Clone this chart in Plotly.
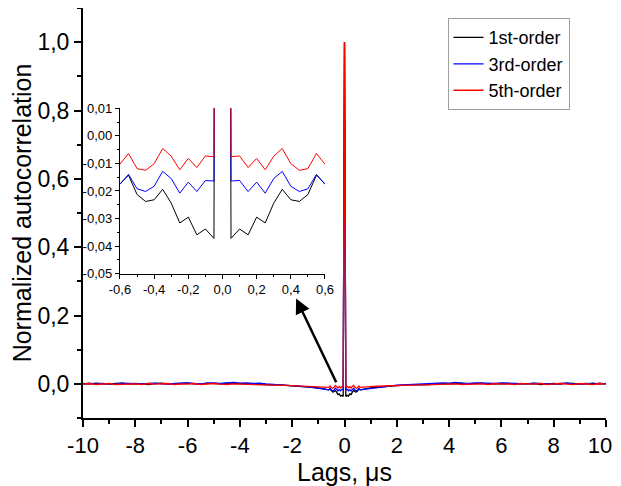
import plotly.graph_objects as go

# ---------------- data ----------------
outer_lags_left = [-10, -9.75, -9.5, -9.25, -9, -8.75, -8.5, -8.25, -8, -7.75, -7.5, -7.25,
                   -7, -6.75, -6.5, -6.25, -6, -5.75, -5.5, -5.25, -5, -4.75, -4.5, -4.25,
                   -4, -3.75, -3.5, -3.25, -3, -2.75, -2.5, -2.25, -2, -1.75, -1.5, -1.25,
                   -1, -0.75]
inner_lags_left = [-0.6, -0.55, -0.5, -0.45, -0.4, -0.35, -0.3, -0.25, -0.2, -0.15, -0.1, -0.05]

first_outer = [0.001, -0.001, 0.002, 0.000, -0.001, 0.001, 0.002, -0.001, 0.001, 0.000, -0.002, 0.001,
               0.002, 0.000, -0.001, 0.001, 0.002, 0.000, -0.001, 0.002, 0.001, 0.000, 0.002, 0.001,
               0.000, -0.001, 0.000, -0.002, -0.002, -0.003, -0.003, -0.004, -0.005, -0.006, -0.008, -0.010,
               -0.012, -0.015]
third_outer = [0.000, 0.002, -0.001, 0.001, 0.000, -0.001, 0.002, 0.001, -0.001, 0.000, 0.001, 0.002,
               0.000, -0.001, 0.001, 0.002, 0.003, 0.001, 0.000, 0.002, 0.003, 0.001, 0.002, 0.004,
               0.002, 0.003, 0.001, 0.002, 0.000, -0.001, -0.002, -0.003, -0.004, -0.006, -0.008, -0.010,
               -0.013, -0.016]
fifth_outer = [-0.001, 0.001, -0.002, 0.000, 0.001, -0.002, -0.001, 0.001, 0.000, -0.002, 0.001, -0.001,
               0.000, 0.001, -0.002, 0.000, -0.001, 0.001, -0.002, 0.000, 0.001, -0.001, -0.002, 0.000,
               -0.001, -0.002, -0.003, -0.002, -0.003, -0.004, -0.004, -0.005, -0.005, -0.006, -0.006, -0.007,
               -0.008, -0.009]

first_inner = [-0.0174, -0.0143, -0.0213, -0.0238, -0.0232, -0.0194, -0.0244, -0.0316, -0.0295, -0.0359, -0.0338, -0.0372]
third_inner = [-0.0176, -0.0140, -0.0192, -0.0202, -0.0183, -0.0129, -0.0155, -0.0208, -0.0168, -0.0202, -0.0162, -0.0164]
fifth_inner = [-0.0103, -0.0064, -0.0119, -0.0125, -0.0101, -0.0046, -0.0074, -0.0123, -0.0082, -0.0115, -0.0073, -0.0076]

peak_lag = [0.0]
peak_value = [1.0]

series_names = ["1st-order", "3rd-order", "5th-order"]
series_colors = ["#000000", "#0000ff", "#ff0000"]

main_xtick_vals = [-10, -8, -6, -4, -2, 0, 2, 4, 6, 8, 10]
# the last label gets a trailing figure space so it stays inside the visible page
main_xtick_text = ["-10", "-8", "-6", "-4", "-2", "0", "2", "4", "6", "8", "10\u2007"]
main_ytick_vals = [0.0, 0.2, 0.4, 0.6, 0.8, 1.0]
main_ytick_text = ["0,0", "0,2", "0,4", "0,6", "0,8", "1,0"]
inset_xtick_vals = [-0.6, -0.4, -0.2, 0.0, 0.2, 0.4, 0.6]
inset_xtick_text = ["-0,6", "-0,4", "-0,2", "0,0", "0,2", "0,4", "0,6"]
inset_ytick_vals = [0.01, 0.0, -0.01, -0.02, -0.03, -0.04, -0.05]
inset_ytick_text = ["0,01", "0,00", "-0,01", "-0,02", "-0,03", "-0,04", "-0,05"]

# symmetric autocorrelation: mirror the left half
lags = outer_lags_left + inner_lags_left + peak_lag + \
    [-v for v in reversed(inner_lags_left)] + [-v for v in reversed(outer_lags_left)]


def full(outer, inner):
    return outer + inner + peak_value + list(reversed(inner)) + list(reversed(outer))


series = [full(first_outer, first_inner), full(third_outer, third_inner), full(fifth_outer, fifth_inner)]

# ---------------- figure ----------------
FONT = "Liberation Sans, Arial, sans-serif"
fig = go.Figure()

for name, col, vals in zip(series_names, series_colors, series):
    fig.add_trace(go.Scatter(x=lags, y=vals, mode="lines", name=name,
                             line=dict(color=col, width=1.3), xaxis="x", yaxis="y"))
for name, col, vals in zip(series_names, series_colors, series):
    fig.add_trace(go.Scatter(x=lags, y=vals, mode="lines", name=name, showlegend=False,
                             line=dict(color=col, width=1), xaxis="x2", yaxis="y2"))

axis_common = dict(showgrid=False, zeroline=False, showline=True, linecolor="black", automargin=False)

# the page body adds an 8px offset: figure is sized 613x478 and margins compensate
fig.update_layout(
    width=613, height=478,
    margin=dict(l=75, r=15, t=0, b=68, autoexpand=False),
    paper_bgcolor="white", plot_bgcolor="white",
    font=dict(family=FONT, color="black"),
    showlegend=True,
    legend=dict(x=0.697, y=0.975, xanchor="left", yanchor="top",
                bordercolor="#a0a0a0", borderwidth=1, bgcolor="white",
                font=dict(size=18, family=FONT), tracegroupgap=0),
    xaxis=dict(**axis_common, domain=[0, 1], range=[-10, 10], linewidth=2,
               tickmode="array", tickvals=main_xtick_vals, ticktext=main_xtick_text,
               ticks="outside", ticklen=7, tickwidth=2, tickcolor="black",
               tickfont=dict(size=22, family=FONT), ticklabeloverflow="allow",
               minor=dict(tickmode="linear", tick0=0, dtick=1, ticks="outside",
                          ticklen=4, tickwidth=2, tickcolor="black"),
               title=dict(text="Lags, μs", font=dict(size=25, family=FONT), standoff=4),
               anchor="y"),
    yaxis=dict(**axis_common, domain=[0, 1], range=[-0.1, 1.1], linewidth=2,
               tickmode="array", tickvals=main_ytick_vals, ticktext=main_ytick_text,
               ticks="outside", ticklen=7, tickwidth=2, tickcolor="black",
               tickfont=dict(size=23, family=FONT),
               minor=dict(tickmode="linear", tick0=0, dtick=0.1, ticks="outside",
                          ticklen=4, tickwidth=2, tickcolor="black"),
               title=dict(text="Normalized autocorrelation", font=dict(size=25, family=FONT), standoff=6),
               anchor="x"),
    # mirrored main axes with inward ticks
    xaxis3=dict(**axis_common, overlaying="x", side="top", anchor="y", range=[-10, 10], linewidth=2,
                tickmode="array", tickvals=main_xtick_vals, ticktext=[""] * len(main_xtick_vals),
                ticks="inside", ticklen=7, tickwidth=2, tickcolor="black", showticklabels=False,
                minor=dict(tickmode="linear", tick0=0, dtick=1, ticks="inside",
                           ticklen=4, tickwidth=2, tickcolor="black")),
    yaxis3=dict(**axis_common, overlaying="y", side="right", anchor="x", range=[-0.1, 1.1], linewidth=2,
                tickmode="array", tickvals=main_ytick_vals, ticktext=[""] * len(main_ytick_vals),
                ticks="inside", ticklen=7, tickwidth=2, tickcolor="black", showticklabels=False,
                minor=dict(tickmode="linear", tick0=0, dtick=0.1, ticks="inside",
                           ticklen=4, tickwidth=2, tickcolor="black")),
    # inset axes
    xaxis2=dict(**axis_common, domain=[0.0707, 0.4627], range=[-0.6, 0.6], linewidth=1.3,
                tickmode="array", tickvals=inset_xtick_vals, ticktext=inset_xtick_text,
                ticks="outside", ticklen=4, tickwidth=1.3, tickcolor="black",
                tickfont=dict(size=13, family=FONT),
                minor=dict(tickmode="linear", tick0=0, dtick=0.1, ticks="outside",
                           ticklen=2, tickwidth=1, tickcolor="black"),
                anchor="y2"),
    yaxis2=dict(**axis_common, domain=[0.352, 0.7555], range=[-0.05, 0.01], linewidth=1.3,
                tickmode="array", tickvals=inset_ytick_vals, ticktext=inset_ytick_text,
                ticks="outside", ticklen=4, tickwidth=1.3, tickcolor="black",
                tickfont=dict(size=13, family=FONT),
                minor=dict(tickmode="linear", tick0=0, dtick=0.005, ticks="outside",
                           ticklen=2, tickwidth=1, tickcolor="black"),
                anchor="x2"),
    xaxis4=dict(**axis_common, overlaying="x2", side="top", anchor="y2", range=[-0.6, 0.6], linewidth=1.3,
                tickmode="array", tickvals=inset_xtick_vals, ticks="inside", ticklen=3, tickwidth=1,
                tickcolor="black", showticklabels=False),
    yaxis4=dict(**axis_common, overlaying="y2", side="right", anchor="x2", range=[-0.05, 0.01], linewidth=1.3,
                tickmode="array", tickvals=inset_ytick_vals, ticks="inside", ticklen=3, tickwidth=1,
                tickcolor="black", showticklabels=False),
)

fig.add_annotation(x=-1.85, y=0.25, ax=-0.29, ay=0.0, xref="x", yref="y", axref="x", ayref="y",
                   text="", showarrow=True, arrowhead=2, arrowsize=1.2, arrowwidth=2.5,
                   arrowcolor="black")

fig.write_html("out.html")
